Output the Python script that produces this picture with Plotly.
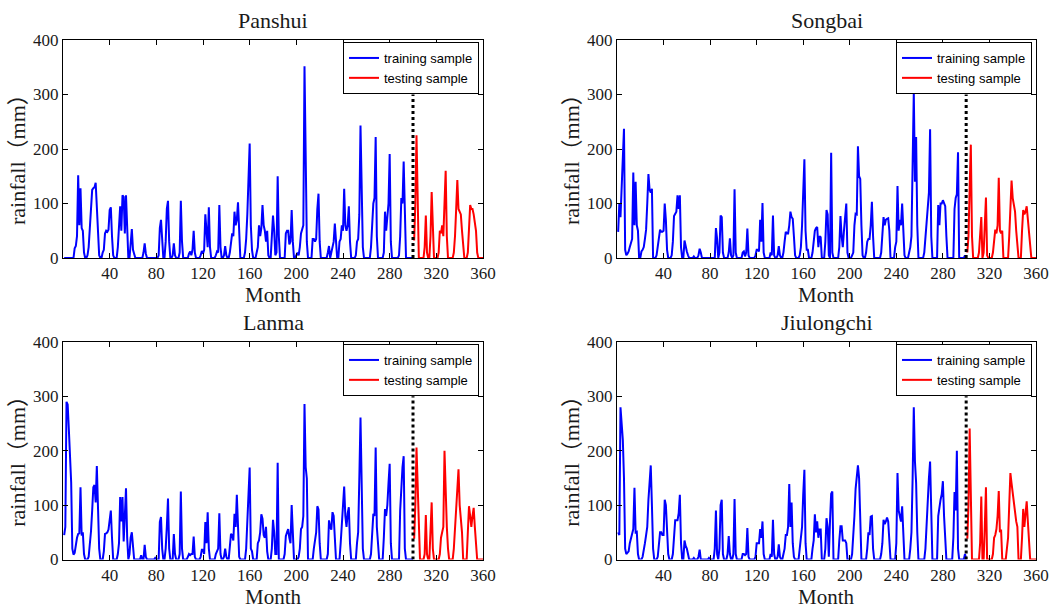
import plotly.graph_objects as go

# Monthly rainfall (mm), months 1-300 = training sample, 301-360 = testing sample
months_train = list(range(1, 301))
months_test = list(range(301, 361))
split_month = 300

stations = ["Panshui", "Songbai", "Lanma", "Jiulongchi"]

panshui_train = [
    0, 0, 0, 0, 0, 0, 0, 0, 0, 18, 22, 40,
    152, 60, 128, 55, 50, 10, 0, 0, 5, 20, 50, 90,
    125, 128, 130, 138, 100, 40, 5, 0, 0, 10, 15, 45,
    50, 48, 52, 88, 93, 40, 5, 0, 0, 0, 20, 60,
    95, 50, 115, 112, 45, 115, 50, 0, 0, 25, 53, 15,
    5, 0, 0, 0, 0, 0, 0, 0, 10, 27, 8, 0,
    0, 0, 0, 0, 0, 0, 0, 0, 0, 5, 55, 70,
    20, 0, 0, 30, 90, 105, 30, 0, 0, 5, 27, 5,
    0, 0, 0, 10, 105, 30, 0, 0, 0, 0, 0, 8,
    12, 5, 15, 50, 10, 0, 0, 0, 0, 5, 13, 8,
    15, 80, 50, 20, 93, 20, 0, 0, 0, 0, 5, 12,
    10, 97, 20, 0, 0, 5, 22, 5, 0, 0, 10, 30,
    45, 40, 85, 60, 70, 102, 40, 0, 0, 0, 0, 10,
    35, 80, 150, 210, 60, 15, 0, 0, 0, 10, 20, 60,
    40, 55, 97, 60, 50, 30, 50, 5, 0, 0, 35, 78,
    50, 5, 10, 150, 40, 0, 0, 0, 0, 0, 45, 50,
    50, 25, 30, 88, 30, 0, 0, 5, 10, 5, 20, 45,
    55, 60, 352, 120, 30, 0, 0, 0, 0, 35, 35, 30,
    35, 90, 118, 30, 0, 0, 0, 0, 0, 0, 10, 22,
    0, 10, 25, 30, 63, 20, 0, 0, 30, 35, 60, 50,
    127, 60, 50, 60, 95, 30, 0, 0, 0, 0, 5, 30,
    35, 80, 243, 110, 20, 0, 0, 0, 0, 0, 0, 20,
    70, 100, 110, 222, 40, 0, 0, 0, 0, 0, 10, 85,
    50, 85, 100, 191, 30, 0, 0, 0, 0, 0, 0, 5,
    40, 110, 100, 177, 50, 0, 0, 0, 0, 0, 0, 0,
]
panshui_test = [
    32, 100, 225, 60, 0, 0, 0, 0, 0, 20, 78, 10,
    0, 0, 40, 121, 40, 0, 0, 0, 0, 10, 50, 45,
    60, 40, 100, 160, 40, 0, 0, 0, 0, 0, 10, 40,
    90, 143, 90, 85, 80, 50, 20, 0, 0, 0, 10, 50,
    97, 90, 90, 80, 60, 50, 10, 0, 0, 0, 0, 0,
]

songbai_train = [
    48, 100, 75, 130, 185, 237, 15, 5, 8, 12, 20, 30,
    35, 157, 60, 140, 60, 50, 0, 0, 12, 15, 20, 35,
    52, 100, 154, 125, 120, 127, 0, 0, 0, 5, 20, 40,
    52, 48, 48, 50, 100, 70, 15, 0, 0, 0, 5, 30,
    77, 80, 85, 115, 90, 115, 20, 0, 0, 32, 20, 12,
    5, 0, 0, 0, 0, 3, 0, 0, 0, 5, 17, 10,
    0, 0, 0, 0, 0, 0, 0, 0, 0, 0, 0, 0,
    55, 35, 0, 10, 78, 75, 10, 0, 0, 0, 0, 10,
    36, 5, 0, 5, 126, 10, 0, 0, 0, 0, 0, 10,
    12, 3, 10, 54, 5, 0, 0, 0, 0, 0, 5, 15,
    15, 12, 70, 30, 101, 10, 0, 0, 0, 0, 0, 10,
    5, 78, 5, 0, 0, 5, 22, 5, 0, 0, 10, 30,
    48, 45, 45, 60, 85, 75, 72, 40, 5, 0, 0, 0,
    5, 20, 60, 120, 181, 50, 15, 15, 0, 0, 0, 10,
    30, 50, 55, 57, 20, 40, 38, 0, 0, 0, 30, 88,
    80, 5, 0, 193, 10, 0, 0, 0, 0, 0, 20, 77,
    40, 20, 50, 80, 100, 10, 0, 0, 0, 5, 10, 60,
    81, 80, 205, 150, 145, 60, 5, 0, 0, 10, 30, 35,
    35, 60, 103, 40, 0, 0, 0, 0, 0, 0, 10, 40,
    75, 60, 70, 72, 73, 50, 0, 0, 0, 0, 20, 30,
    132, 50, 70, 60, 100, 40, 5, 0, 0, 0, 10, 20,
    40, 200, 304, 140, 222, 60, 0, 0, 0, 0, 0, 10,
    40, 70, 100, 120, 236, 40, 0, 0, 0, 0, 0, 97,
    60, 100, 100, 106, 100, 95, 40, 0, 0, 0, 0, 0,
    0, 90, 110, 117, 194, 0, 0, 0, 0, 0, 5, 0,
]
songbai_test = [
    10, 40, 130, 208, 40, 0, 0, 0, 0, 0, 10, 40,
    75, 0, 10, 60, 111, 5, 0, 0, 0, 0, 10, 40,
    52, 45, 60, 147, 50, 45, 50, 0, 0, 0, 0, 0,
    40, 90, 142, 110, 100, 85, 50, 20, 0, 0, 0, 50,
    88, 80, 85, 95, 70, 40, 20, 0, 0, 0, 0, 0,
]

lanma_train = [
    45, 60, 290, 285, 240, 200, 142, 20, 9, 12, 30, 40,
    47, 48, 133, 44, 50, 10, 0, 0, 0, 5, 25, 52,
    90, 133, 137, 105, 172, 100, 20, 0, 0, 0, 15, 47,
    48, 50, 55, 70, 90, 40, 0, 0, 0, 0, 10, 30,
    115, 70, 115, 33, 80, 131, 40, 0, 10, 40, 50, 20,
    0, 0, 0, 0, 0, 0, 8, 0, 0, 27, 5, 0,
    0, 0, 0, 0, 0, 0, 3, 0, 0, 0, 69, 78,
    20, 0, 0, 20, 60, 112, 20, 0, 0, 0, 47, 10,
    0, 0, 0, 10, 125, 20, 0, 0, 0, 0, 5, 10,
    8, 10, 10, 42, 5, 0, 0, 0, 0, 5, 18, 18,
    10, 69, 30, 87, 20, 0, 0, 0, 0, 0, 10, 15,
    20, 85, 10, 0, 0, 5, 20, 5, 0, 0, 20, 47,
    45, 35, 84, 60, 119, 40, 5, 0, 0, 0, 0, 0,
    20, 60, 120, 169, 20, 15, 0, 0, 0, 0, 30, 35,
    50, 83, 75, 45, 40, 60, 15, 0, 0, 0, 20, 73,
    50, 10, 10, 178, 0, 0, 0, 0, 0, 10, 43, 50,
    56, 40, 30, 100, 40, 0, 0, 0, 0, 5, 20, 56,
    60, 80, 286, 170, 149, 0, 0, 0, 0, 0, 20, 40,
    50, 98, 92, 30, 0, 0, 0, 0, 0, 0, 10, 72,
    60, 55, 87, 80, 40, 0, 0, 0, 0, 30, 60, 100,
    134, 80, 60, 85, 96, 30, 0, 0, 0, 0, 0, 30,
    50, 150, 261, 140, 20, 0, 0, 0, 0, 0, 0, 10,
    60, 84, 80, 206, 60, 30, 0, 0, 0, 0, 40, 93,
    80, 100, 140, 176, 30, 0, 0, 0, 0, 0, 0, 0,
    90, 140, 170, 190, 20, 0, 0, 0, 0, 0, 0, 0,
]
lanma_test = [
    38, 100, 206, 120, 60, 0, 0, 0, 0, 10, 82, 10,
    0, 0, 50, 105, 20, 0, 0, 0, 0, 0, 10, 40,
    50, 60, 200, 100, 60, 20, 0, 0, 0, 0, 20, 60,
    110, 140, 166, 100, 78, 50, 0, 0, 0, 0, 50, 98,
    80, 60, 80, 95, 60, 20, 0, 0, 0, 0, 0, 0,
]

jiulongchi_train = [
    50, 45, 280, 255, 220, 150, 20, 10, 12, 15, 30, 40,
    45, 56, 132, 50, 51, 10, 0, 0, 0, 5, 15, 30,
    45, 60, 110, 150, 173, 100, 20, 0, 0, 0, 5, 30,
    50, 50, 45, 45, 110, 100, 60, 10, 0, 0, 0, 10,
    40, 72, 72, 72, 85, 119, 30, 0, 0, 35, 25, 20,
    10, 0, 0, 0, 0, 3, 0, 0, 0, 5, 18, 0,
    0, 0, 0, 0, 0, 0, 3, 0, 0, 0, 0, 20,
    90, 10, 0, 20, 100, 110, 10, 0, 0, 0, 10, 43,
    10, 0, 0, 10, 111, 10, 0, 0, 0, 0, 0, 10,
    10, 8, 10, 58, 5, 0, 0, 0, 0, 0, 5, 30,
    30, 30, 56, 40, 70, 10, 0, 0, 0, 0, 0, 10,
    5, 73, 10, 0, 0, 5, 28, 5, 0, 0, 10, 20,
    45, 45, 60, 139, 60, 105, 30, 5, 0, 0, 0, 0,
    20, 40, 60, 120, 165, 30, 0, 0, 0, 0, 0, 20,
    35, 83, 50, 70, 40, 55, 55, 0, 0, 0, 20, 76,
    60, 5, 70, 121, 125, 0, 0, 0, 0, 0, 35, 61,
    61, 35, 35, 35, 30, 0, 0, 0, 0, 10, 40, 80,
    130, 160, 173, 150, 60, 0, 0, 0, 0, 0, 20, 50,
    45, 79, 80, 20, 0, 0, 0, 0, 0, 0, 10, 30,
    73, 65, 70, 77, 70, 30, 0, 0, 0, 0, 0, 30,
    159, 90, 80, 70, 98, 30, 0, 0, 0, 0, 0, 20,
    50, 150, 280, 180, 141, 50, 0, 0, 0, 0, 0, 0,
    20, 70, 110, 150, 180, 50, 0, 0, 0, 0, 0, 80,
    100, 110, 120, 144, 80, 40, 0, 0, 0, 0, 0, 0,
    40, 124, 90, 200, 20, 0, 0, 0, 0, 0, 10, 0,
]
jiulongchi_test = [
    38, 100, 241, 100, 0, 0, 0, 0, 0, 0, 0, 30,
    116, 0, 0, 60, 133, 0, 0, 0, 0, 0, 10, 40,
    45, 56, 80, 126, 50, 55, 0, 0, 0, 0, 20, 40,
    100, 159, 140, 120, 100, 80, 70, 60, 0, 0, 0, 40,
    93, 60, 80, 107, 70, 25, 0, 0, 0, 0, 0, 0,
]

train_series = [panshui_train, songbai_train, lanma_train, jiulongchi_train]
test_series = [panshui_test, songbai_test, lanma_test, jiulongchi_test]

x_ticks = [40, 80, 120, 160, 200, 240, 280, 320, 360]
y_ticks = [0, 100, 200, 300, 400]

W, H = 1051, 610
# plot-area boxes in pixels: (left, right, top, bottom)
boxes = [
    (63, 483, 40, 258),
    (617, 1036, 40, 258),
    (63, 483, 342, 559.5),
    (617, 1036, 342, 559.5),
]

BLUE = "#0000FF"
RED = "#FF0000"
TEXT = "#1a1a1a"
label_family = "Liberation Serif, Noto Sans CJK SC, serif"
tick_font = dict(family="Liberation Serif", size=17, color=TEXT)

fig = go.Figure()
layout = dict(
    width=W, height=H,
    margin=dict(l=0, r=0, t=0, b=0, pad=0, autoexpand=False),
    paper_bgcolor="white", plot_bgcolor="white",
    showlegend=True,
    annotations=[],
)

for i, name in enumerate(stations):
    n = "" if i == 0 else str(i + 1)
    xa, ya = "x" + n, "y" + n
    lg = "legend" + n
    left, right, top, bottom = boxes[i]

    fig.add_trace(go.Scatter(
        x=months_train, y=train_series[i], mode="lines",
        line=dict(color=BLUE, width=2), name="training sample",
        xaxis=xa, yaxis=ya, legend=lg,
    ))
    fig.add_trace(go.Scatter(
        x=months_test, y=test_series[i], mode="lines",
        line=dict(color=RED, width=2), name="testing sample",
        xaxis=xa, yaxis=ya, legend=lg,
    ))
    fig.add_trace(go.Scatter(
        x=[split_month, split_month], y=[0, 300], mode="lines",
        line=dict(color="black", width=3, dash="3px,3px"),
        showlegend=False, xaxis=xa, yaxis=ya, hoverinfo="skip",
    ))

    axis_common = dict(
        ticks="inside", ticklen=5, tickwidth=1, tickcolor="black",
        showline=True, linecolor="black", linewidth=1, mirror="ticks",
        showgrid=False, zeroline=False, tickfont=tick_font, automargin=False,
    )
    layout["xaxis" + n] = dict(
        axis_common, range=[0, 360], tickvals=x_ticks,
        domain=[left / W, right / W], anchor=ya,
    )
    layout["yaxis" + n] = dict(
        axis_common, range=[0, 400], tickvals=y_ticks,
        domain=[1 - bottom / H, 1 - top / H], anchor=xa,
    )
    layout[lg] = dict(
        x=(right - 4) / W, xanchor="right",
        y=1 - (top + 2) / H, yanchor="top",
        bgcolor="white", bordercolor="black", borderwidth=1,
        font=dict(family="Liberation Sans", size=13, color="black"),
        tracegroupgap=0, itemwidth=30,
    )

    cx = (left + right) / 2
    cy = (top + bottom) / 2
    layout["annotations"] += [
        dict(text=name, x=cx / W, y=1 - (top - 20) / H, xref="paper", yref="paper",
             xanchor="center", yanchor="middle", showarrow=False,
             font=dict(family=label_family, size=22, color=TEXT)),
        dict(text="Month", x=cx / W, y=1 - (bottom + 37) / H, xref="paper", yref="paper",
             xanchor="center", yanchor="middle", showarrow=False,
             font=dict(family=label_family, size=21, color=TEXT)),
        dict(text="rainfall（mm）", x=(left - 45) / W, y=1 - (cy + 5) / H,
             xref="paper", yref="paper",
             xanchor="center", yanchor="middle", showarrow=False, textangle=-90,
             font=dict(family=label_family, size=22, color=TEXT)),
    ]

fig.update_layout(layout)
fig.write_html("out.html")
